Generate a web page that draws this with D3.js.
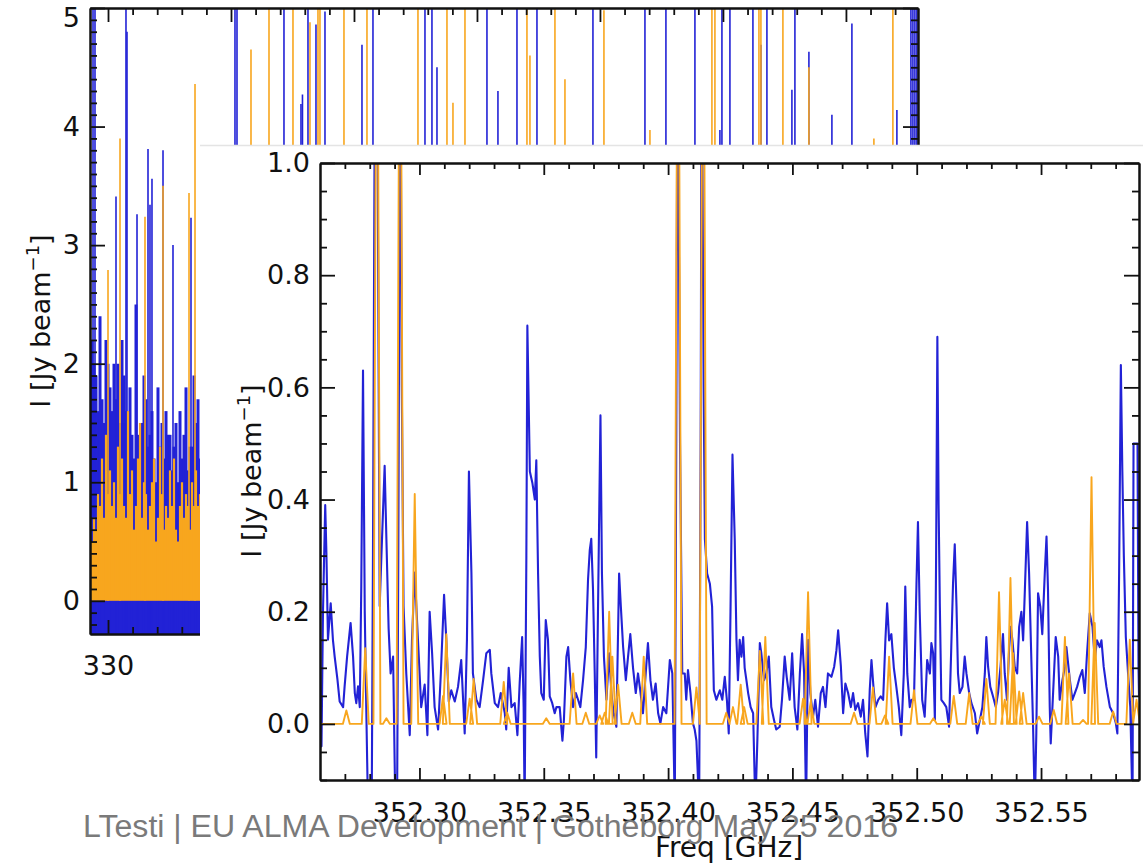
<!DOCTYPE html>
<html><head><meta charset="utf-8">
<script src="https://cdn.jsdelivr.net/npm/d3@7"></script>
<style>body{margin:0;background:#fff;} svg{display:block;}</style>
</head><body>
<svg id="chart" width="1143" height="864"></svg>
<script>
// ---------- DATA ----------
// Wide-band spectrum (background panel), dense channels in the left strip (GHz, Jy/beam)
const wideFreq = [329.268,329.349,329.431,329.512,329.593,329.675,329.756,329.837,329.918,330.000,330.081,330.162,330.244,330.325,330.406,330.488,330.569,330.650,330.731,330.813,330.894,330.975,331.057,331.138,331.219,331.301,331.382,331.463,331.544,331.626,331.707,331.788,331.870,331.951,332.032,332.114,332.195,332.276,332.358,332.439,332.520,332.601,332.683,332.764,332.846,332.927,333.008,333.089,333.171,333.252,333.333,333.415,333.496,333.577,333.659,333.740];
const wideObserved = [2.1,2.2,2.0,1.9,1.6,2.4,1.7,1.5,2.2,2.0,1.8,1.6,2.0,1.7,2.0,1.5,2.2,1.9,1.6,1.6,1.8,1.4,1.2,2.5,1.4,1.3,1.5,1.9,1.7,1.3,1.4,1.6,1.2,1.0,1.8,1.3,1.5,1.2,1.6,1.4,1.4,1.1,1.3,1.5,1.0,1.6,1.2,1.4,1.8,1.1,1.3,1.3,1.9,1.5,1.7,1.2];
const wideModel = [0.3,0.5,0.7,0.6,0.9,0.8,1.2,0.7,1.4,0.9,1.1,0.8,1.0,0.7,1.3,0.9,1.2,0.8,0.7,1.6,0.9,1.1,0.6,0.8,1.2,1.5,0.7,1.0,0.9,0.6,0.8,1.0,1.2,0.5,0.7,1.3,0.9,0.6,0.8,0.7,1.1,0.8,1.2,0.6,0.5,0.8,1.0,0.7,0.9,0.8,0.6,1.0,0.8,1.1,0.8,0.9];
// Strong lines of the wide-band spectrum
const wideObsLineFreq = [329.390,329.471,330.325,330.731,330.772,331.179,331.626,331.707,331.788,332.236,332.642,333.374,335.162,335.244,337.154,337.845,337.906,338.130,338.455,338.821,340.325,340.772,342.886,343.170,343.374,345.406,345.853,346.626,347.439,349.715,351.829,352.682,353.861,354.877,354.959,355.284,356.219,356.544,356.788,357.804,357.926,358.495,359.430,360.243,362.072,362.642,362.723,362.804,362.885];
const wideObsLinePeak = [6,6,3.41,6,4.8,3.26,3.81,3.34,3.56,3.8,3.0,3.23,6,6,6,4.19,4.27,6,4.86,4.97,4.69,6,6,6,4.5,6,4.3,6,6,6,6,6,6,3.97,6,6,6,4.69,6,4.31,6,4.63,4.1,4.87,4.14,6,6,6,6];
const wideModLineFreq = [330.000,330.488,331.504,332.236,333.293,333.537,335.813,336.545,337.520,338.211,338.536,338.617,339.593,340.528,342.601,343.780,344.024,344.512,347.032,347.154,348.170,348.577,350.162,352.032,354.552,354.674,356.463,356.544,357.438,358.495,361.137,361.909];
const wideModLinePeak = [2.79,3.9,3.24,3.5,3.44,4.36,4.65,6,6,4.88,6,6,6,6,6,6,4.2,6,6,4.6,6,4.4,4.98,3.97,6,6,6,6,6,4.5,3.9,6];
const wideYTicks = [0,1,2,3,4,5];
const wideXTicks = [330,335,340,345,350,355,360];

// Zoomed spectrum (foreground panel)
const zoomFreq = [352.2601,352.2606,352.2612,352.2621,352.2626,352.2632,352.2643,352.2652,352.2659,352.2670,352.2679,352.2693,352.2699,352.2709,352.2723,352.2733,352.2740,352.2746,352.2753,352.2760,352.2766,352.2773,352.2780,352.2786,352.2793,352.2808,352.2813,352.2821,352.2829,352.2840,352.2847,352.2860,352.2867,352.2876,352.2884,352.2894,352.2903,352.2910,352.2915,352.2923,352.2929,352.2936,352.2947,352.2961,352.2970,352.2981,352.2994,352.3007,352.3021,352.3032,352.3041,352.3051,352.3061,352.3075,352.3086,352.3099,352.3108,352.3118,352.3128,352.3142,352.3155,352.3168,352.3182,352.3191,352.3199,352.3209,352.3215,352.3229,352.3242,352.3256,352.3269,352.3283,352.3289,352.3303,352.3316,352.3327,352.3343,352.3349,352.3359,352.3370,352.3383,352.3394,352.3403,352.3413,352.3419,352.3423,352.3430,352.3434,352.3444,352.3454,352.3464,352.3470,352.3477,352.3484,352.3490,352.3500,352.3508,352.3517,352.3524,352.3534,352.3544,352.3551,352.3564,352.3575,352.3581,352.3591,352.3598,352.3607,352.3618,352.3629,352.3638,352.3647,352.3658,352.3669,352.3678,352.3685,352.3691,352.3698,352.3705,352.3711,352.3718,352.3728,352.3734,352.3742,352.3752,352.3763,352.3772,352.3781,352.3792,352.3803,352.3810,352.3819,352.3830,352.3839,352.3848,352.3859,352.3870,352.3879,352.3888,352.3899,352.3910,352.3919,352.3929,352.3939,352.3950,352.3960,352.3969,352.3980,352.3993,352.4007,352.4017,352.4027,352.4033,352.4038,352.4048,352.4057,352.4067,352.4073,352.4080,352.4090,352.4100,352.4107,352.4114,352.4125,352.4131,352.4135,352.4143,352.4148,352.4157,352.4168,352.4177,352.4184,352.4194,352.4208,352.4218,352.4228,352.4237,352.4244,352.4251,352.4259,352.4268,352.4275,352.4281,352.4288,352.4295,352.4302,352.4308,352.4315,352.4322,352.4332,352.4342,352.4351,352.4359,352.4369,352.4375,352.4386,352.4395,352.4405,352.4415,352.4426,352.4435,352.4449,352.4458,352.4469,352.4477,352.4489,352.4499,352.4509,352.4520,352.4530,352.4539,352.4547,352.4555,352.4563,352.4572,352.4583,352.4592,352.4603,352.4614,352.4623,352.4633,352.4643,352.4657,352.4668,352.4677,352.4684,352.4695,352.4704,352.4713,352.4724,352.4735,352.4744,352.4753,352.4764,352.4775,352.4784,352.4793,352.4802,352.4811,352.4818,352.4826,352.4834,352.4845,352.4855,352.4865,352.4874,352.4881,352.4889,352.4898,352.4908,352.4918,352.4928,352.4938,352.4948,352.4954,352.4962,352.4972,352.4979,352.4989,352.4999,352.5005,352.5012,352.5022,352.5032,352.5042,352.5053,352.5059,352.5066,352.5073,352.5078,352.5083,352.5088,352.5093,352.5099,352.5109,352.5119,352.5130,352.5139,352.5146,352.5153,352.5160,352.5166,352.5173,352.5184,352.5193,352.5200,352.5211,352.5220,352.5234,352.5243,352.5254,352.5264,352.5274,352.5280,352.5287,352.5296,352.5307,352.5318,352.5327,352.5337,352.5347,352.5354,352.5363,352.5372,352.5378,352.5385,352.5394,352.5404,352.5412,352.5421,352.5428,352.5435,352.5444,352.5452,352.5459,352.5468,352.5475,352.5481,352.5488,352.5497,352.5505,352.5515,352.5522,352.5528,352.5535,352.5539,352.5549,352.5559,352.5569,352.5575,352.5586,352.5596,352.5602,352.5616,352.5626,352.5636,352.5645,352.5656,352.5666,352.5676,352.5685,352.5696,352.5707,352.5716,352.5725,352.5736,352.5743,352.5752,352.5763,352.5777,352.5790,352.5801,352.5807,352.5814,352.5821,352.5827,352.5833,352.5841,352.5850,352.5859,352.5868,352.5872,352.5888,352.5892,352.5894];
const zoomObserved = [0.06,-0.04,0.2,0.39,0.3,0.15,0.215,0.15,0.12,0.08,0.04,0.03,0.067,0.12,0.18,0.12,0.055,0.037,0.067,0.03,0.245,0.63,0.2,0.03,-0.15,-0.15,0.3,1.2,1.3,0.21,0.3,0.46,0.33,0.17,0.09,0.12,-0.15,-0.15,0.3,1.3,0.6,0.21,0.09,-0.02,0.15,0.27,0.15,0.03,0.07,-0.02,0.2,0.125,0.03,-0.01,0.09,0.23,0.15,0.04,0.06,0.04,0.066,0.114,-0.017,0.15,0.45,0.27,0.09,0.043,0.03,0.078,0.126,0.132,0.09,0.037,0.03,0.055,0.02,-0.01,0.1,0.03,0.037,-0.02,0.072,0.155,0.03,-0.15,0.3,0.71,0.45,0.43,0.4,0.47,0.27,0.12,0.055,0.043,0.185,0.15,0.049,0.037,0.019,0.03,0.03,-0.03,0.007,0.12,0.137,0.078,0.03,0.055,0.043,0.03,0.078,0.137,0.257,0.31,0.33,0.24,0.09,-0.06,0.2,0.55,0.268,0.12,0.043,0.126,0.055,0.019,-0.005,0.268,0.209,0.138,0.078,0.12,0.16,0.1,0.055,0.09,0.06,0.019,0.09,0.144,0.078,0.043,0.072,0.019,0.001,0.03,0.019,0.114,0.09,-0.15,0.5,1.3,0.5,0.09,0.09,0.043,0.096,0.055,0.001,-0.01,-0.03,-0.15,0.5,1.3,0.6,0.33,0.268,0.25,0.209,0.06,0.043,0.06,0.043,0.084,0.04,-0.017,0.2,0.48,0.33,0.15,0.078,0.15,0.12,0.155,0.1,0.078,0.055,0.03,0.019,-0.15,-0.03,0.144,0.126,0.078,0.09,0.12,0.03,0.007,-0.01,-0.005,0.043,0.12,0.084,0.043,0.126,0.03,-0.01,0.09,0.16,0.09,-0.15,0.15,0.055,0.013,0.043,-0.005,0.055,0.066,0.03,0.09,0.084,0.102,0.131,0.167,0.102,0.019,0.072,0.055,0.03,0.055,0.025,0.037,0.013,0.043,-0.017,-0.058,0.06,0.114,0.066,0.03,0.043,0.049,0.043,0.149,0.215,0.149,0.16,0.1,0.066,0.03,-0.02,0.09,0.245,0.09,0.03,0.043,0.043,0.25,0.36,0.2,0.043,0.013,0.114,0.09,0.144,0.126,0.007,0.3,0.69,0.39,0.21,0.043,0.037,0.03,-0.005,0.137,0.25,0.32,0.21,0.09,0.055,0.066,0.12,0.09,0.055,0.037,0.019,-0.017,0.007,0.03,0.09,0.155,0.102,0.066,0.049,0.03,0.055,0.102,0.16,0.09,0.043,0.137,0.173,0.149,0.102,0.09,0.173,0.2,0.149,0.239,0.36,0.268,0.149,-0.005,-0.15,-0.017,0.233,0.209,0.16,0.268,0.334,0.239,0.03,-0.035,0.06,0.155,0.12,0.043,0.078,0.102,0.137,0.078,0.043,0.055,0.066,0.084,0.096,0.055,0.126,0.197,0.173,0.114,0.149,0.137,0.149,0.102,0.066,0.03,0.019,0.001,-0.017,0.268,0.64,0.45,0.3,0.155,0.09,0.03,-0.15,0.5,0.5,0.1,0.05];
// Model line components (centre GHz, peak Jy/beam)
const modelFreq = [352.2706,352.2782,352.2829,352.2867,352.2922,352.2981,352.3095,352.3108,352.3202,352.3218,352.3339,352.3353,352.3510,352.3618,352.3669,352.3725,352.3745,352.3763,352.3776,352.3799,352.3856,352.3902,352.4040,352.4114,352.4141,352.4234,352.4261,352.4292,352.4306,352.4369,352.4391,352.4543,352.4563,352.4574,352.4748,352.4824,352.4872,352.4889,352.4989,352.5067,352.5149,352.5211,352.5260,352.5280,352.5331,352.5354,352.5377,352.5388,352.5412,352.5428,352.5492,352.5551,352.5596,352.5613,352.5669,352.5703,352.5716,352.5790,352.5857,352.5884];
const modelPeak = [0.024,0.135,1.6,0.01,1.6,0.41,0.05,0.16,0.045,0.08,0.075,0.02,0.01,0.09,0.02,0.015,0.02,0.2,0.12,0.07,0.02,0.12,1.6,0.065,1.6,0.02,0.03,0.07,0.03,0.13,0.155,0.045,0.235,0.04,0.02,0.065,0.015,0.12,0.06,0.01,0.05,0.055,0.013,0.08,0.235,0.043,0.26,0.126,0.058,0.055,0.013,0.025,0.155,0.09,0.007,0.44,0.18,0.022,0.15,0.043];
const zoomXTicks = [352.30,352.35,352.40,352.45,352.50,352.55];
const zoomYTicks = [0.0,0.2,0.4,0.6,0.8,1.0];
const footer = "LTesti | EU ALMA Development | Gotheborg May 25 2016";

// ---------- DRAWING ----------
const BLUE = "#2222d6", ORANGE = "#f8a61e", AX = "#111";
const FONT = "'DejaVu Sans', Verdana, sans-serif";
const TICKFS = 27;
const svg = d3.select("#chart");

function styleAxis(g) {
  g.select(".domain").attr("stroke", AX).attr("stroke-width", 2);
  g.selectAll(".tick line").attr("stroke", AX).attr("stroke-width", 1.8);
  g.selectAll(".tick text").attr("font-family", FONT).attr("font-size", TICKFS).attr("fill", "#111");
  return g;
}

// ===== Background (wide-band) panel =====
const bx = d3.scaleLinear().domain([329.268, 362.93]).range([90, 918]);
const by = d3.scaleLinear().domain([-0.28, 5.0]).range([634, 8]);
const defs = svg.append("defs");
defs.append("clipPath").attr("id", "bgclip").append("rect")
  .attr("x", 90).attr("y", 8).attr("width", 828).attr("height", 626);
const bgPlot = svg.append("g").attr("clip-path", "url(#bgclip)");
const wideDense = d3.zip(wideFreq, wideObserved, wideModel);
bgPlot.selectAll("line.bobs").data(wideDense).join("line").attr("class", "bobs")
  .attr("x1", d => bx(d[0])).attr("x2", d => bx(d[0]))
  .attr("y1", by(-0.28)).attr("y2", d => by(d[1]))
  .attr("stroke", BLUE).attr("stroke-width", 3);
bgPlot.selectAll("line.bobsl").data(d3.zip(wideObsLineFreq, wideObsLinePeak)).join("line").attr("class", "bobsl")
  .attr("x1", d => bx(d[0])).attr("x2", d => bx(d[0]))
  .attr("y1", by(-0.28)).attr("y2", d => by(d[1]))
  .attr("stroke", BLUE).attr("stroke-width", 1.6);
bgPlot.selectAll("line.bmod").data(wideDense).join("line").attr("class", "bmod")
  .attr("x1", d => bx(d[0])).attr("x2", d => bx(d[0]))
  .attr("y1", by(0)).attr("y2", d => by(d[2]))
  .attr("stroke", ORANGE).attr("stroke-width", 2.2);
bgPlot.selectAll("line.bmodl").data(d3.zip(wideModLineFreq, wideModLinePeak)).join("line").attr("class", "bmodl")
  .attr("x1", d => bx(d[0])).attr("x2", d => bx(d[0]))
  .attr("y1", by(0)).attr("y2", d => by(d[1]))
  .attr("stroke", ORANGE).attr("stroke-width", 1.6);

const bgMinorY = d3.range(-0.2, 5.0, 0.1).filter(v => Math.abs(v - Math.round(v)) > 0.01);
const bgMinorX = d3.range(330, 363, 1).filter(v => v % 5 !== 0);
// left
styleAxis(svg.append("g").attr("transform", "translate(90,0)")
  .call(d3.axisLeft(by).tickValues(bgMinorY).tickSize(-7).tickFormat("").tickSizeOuter(0)));
const bl = styleAxis(svg.append("g").attr("transform", "translate(90,0)")
  .call(d3.axisLeft(by).tickValues(wideYTicks).tickSize(-15).tickPadding(10).tickFormat(d3.format("d")).tickSizeOuter(0)));
bl.selectAll(".tick text").filter(d => d === 5).attr("dy", "0.7em");
// right
styleAxis(svg.append("g").attr("transform", "translate(918,0)")
  .call(d3.axisRight(by).tickValues(bgMinorY).tickSize(-7).tickFormat("").tickSizeOuter(0)));
styleAxis(svg.append("g").attr("transform", "translate(918,0)")
  .call(d3.axisRight(by).tickValues(wideYTicks).tickSize(-15).tickFormat("").tickSizeOuter(0)));
// top
styleAxis(svg.append("g").attr("transform", "translate(0,8)")
  .call(d3.axisTop(bx).tickValues(bgMinorX).tickSize(-7).tickFormat("").tickSizeOuter(0)));
styleAxis(svg.append("g").attr("transform", "translate(0,8)")
  .call(d3.axisTop(bx).tickValues(wideXTicks).tickSize(-14).tickFormat("").tickSizeOuter(0)));
// bottom
styleAxis(svg.append("g").attr("transform", "translate(0,634)")
  .call(d3.axisBottom(bx).tickValues(bgMinorX).tickSize(-7).tickFormat("").tickSizeOuter(0)));
styleAxis(svg.append("g").attr("transform", "translate(0,634)")
  .call(d3.axisBottom(bx).tickValues(wideXTicks).tickSize(-14).tickPadding(22).tickFormat(d3.format("d")).tickSizeOuter(0)));

function yLabel(x, y) {
  const t = svg.append("text").attr("transform", `translate(${x},${y}) rotate(-90)`)
    .attr("text-anchor", "middle").attr("font-family", FONT).attr("font-size", 27).attr("fill", "#111");
  t.append("tspan").text("I [Jy beam");
  t.append("tspan").attr("dy", -11).attr("font-size", 18).text("\u22121");
  t.append("tspan").attr("dy", 11).text("]");
}
yLabel(50, 321);

// ===== Foreground (zoom) panel =====
svg.append("rect").attr("x", 200).attr("y", 145).attr("width", 943).attr("height", 719).attr("fill", "#fff");
svg.append("line").attr("x1", 200).attr("x2", 1143).attr("y1", 145.5).attr("y2", 145.5)
  .attr("stroke", "#e4e4e4").attr("stroke-width", 1.5);

const fx = d3.scaleLinear().domain([352.26, 352.5894]).range([320, 1139]);
const fy = d3.scaleLinear().domain([-0.1, 1.0]).range([780, 163]);
defs.append("clipPath").attr("id", "fgclip").append("rect")
  .attr("x", 320).attr("y", 163).attr("width", 819).attr("height", 617);
const fgPlot = svg.append("g").attr("clip-path", "url(#fgclip)");

const obsLine = d3.line().x(d => fx(d[0])).y(d => fy(d[1]));
fgPlot.append("path").datum(d3.zip(zoomFreq, zoomObserved)).attr("d", obsLine)
  .attr("fill", "none").attr("stroke", BLUE).attr("stroke-width", 2.1).attr("stroke-linejoin", "round");

const hw = 0.0014;
const modelPts = [[fx.domain()[0], 0]];
d3.zip(modelFreq, modelPeak).sort((a, b) => a[0] - b[0]).forEach(([f, p]) => {
  modelPts.push([f - hw, 0], [f, p], [f + hw, 0]);
});
modelPts.push([fx.domain()[1], 0]);
fgPlot.append("path").datum(modelPts).attr("d", obsLine)
  .attr("fill", "none").attr("stroke", ORANGE).attr("stroke-width", 1.9).attr("stroke-linejoin", "round");

const fgMinorX = d3.range(352.27, 352.589, 0.01).filter(v => Math.abs(v * 20 - Math.round(v * 20)) > 0.01);
const fgMinorY = d3.range(-0.1, 1.0, 0.05).filter(v => Math.abs(v * 5 - Math.round(v * 5)) > 0.01);
// bottom
styleAxis(svg.append("g").attr("transform", "translate(0,780)")
  .call(d3.axisBottom(fx).tickValues(fgMinorX).tickSize(-6).tickFormat("").tickSizeOuter(0)));
styleAxis(svg.append("g").attr("transform", "translate(0,780)")
  .call(d3.axisBottom(fx).tickValues(zoomXTicks).tickSize(-12).tickPadding(23).tickFormat(d3.format(".2f")).tickSizeOuter(0)));
// top
styleAxis(svg.append("g").attr("transform", "translate(0,163)")
  .call(d3.axisTop(fx).tickValues(fgMinorX).tickSize(-6).tickFormat("").tickSizeOuter(0)));
styleAxis(svg.append("g").attr("transform", "translate(0,163)")
  .call(d3.axisTop(fx).tickValues(zoomXTicks).tickSize(-12).tickFormat("").tickSizeOuter(0)));
// left
styleAxis(svg.append("g").attr("transform", "translate(320,0)")
  .call(d3.axisLeft(fy).tickValues(fgMinorY).tickSize(-7).tickFormat("").tickSizeOuter(0)));
styleAxis(svg.append("g").attr("transform", "translate(320,0)")
  .call(d3.axisLeft(fy).tickValues(zoomYTicks).tickSize(-15).tickPadding(10).tickFormat(d3.format(".1f")).tickSizeOuter(0)));
// right
styleAxis(svg.append("g").attr("transform", "translate(1139,0)")
  .call(d3.axisRight(fy).tickValues(fgMinorY).tickSize(-7).tickFormat("").tickSizeOuter(0)));
styleAxis(svg.append("g").attr("transform", "translate(1139,0)")
  .call(d3.axisRight(fy).tickValues(zoomYTicks).tickSize(-15).tickFormat("").tickSizeOuter(0)));

yLabel(261, 471);
svg.append("text").attr("x", 729).attr("y", 857).attr("text-anchor", "middle")
  .attr("font-family", FONT).attr("font-size", 28).attr("fill", "#111").text("Freq [GHz]");

// footer (slide watermark, drawn over the chart as in the original)
svg.append("text").attr("x", 83).attr("y", 837)
  .attr("font-family", "'Liberation Sans Narrow','Liberation Sans',Arial,sans-serif").attr("font-size", 31)
  .attr("fill", "#7a7a7a").attr("textLength", 815).attr("lengthAdjust", "spacingAndGlyphs").text(footer);
</script></body></html>
